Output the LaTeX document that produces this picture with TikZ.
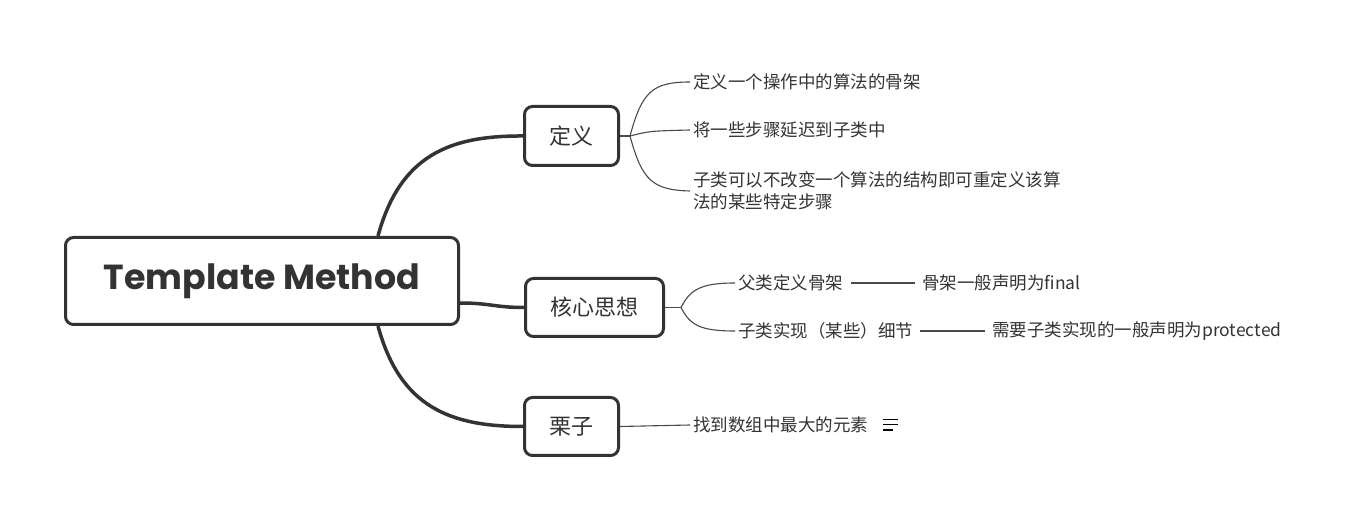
\documentclass[tikz,border=0pt]{standalone}
\usepackage{fontspec}
\newfontfamily\cjk{Noto Sans CJK SC}
\newfontfamily\titlefont{Poppins Bold}
\usetikzlibrary{calc}
\definecolor{ink}{HTML}{333333}
\definecolor{thin}{HTML}{4A4A4A}
\begin{document}
\begin{tikzpicture}[x=1pt,y=-1pt,
  box/.style={draw=ink,line width=3pt,rounded corners=8pt,fill=white,text=ink,inner sep=0pt,font=\cjk\fontsize{22}{26}\selectfont},
  leaf/.style={anchor=west,inner xsep=3pt,inner ysep=0pt,text=ink,font=\cjk\fontsize{17.5}{22}\selectfont,align=left},
  mainline/.style={draw=ink,line width=3.5pt},
  subline/.style={draw=thin,line width=1.1pt}]
\useasboundingbox (0,0) rectangle (1358,518);
% main nodes
\node[box,minimum width=393pt,minimum height=87pt,font=\titlefont\fontsize{34.8}{38}\selectfont] (root) at (262,281) {Template Method};
\node[box,minimum width=94pt,minimum height=59pt] (def) at (571.5,136) {定义};
\node[box,minimum width=138pt,minimum height=58pt] (core) at (594.5,307.5) {核心思想};
\node[box,minimum width=94pt,minimum height=58pt] (ex) at (571.5,426.5) {栗子};
% main branches
\draw[mainline] ([xshift=116pt]root.north) .. controls (400,155) and (450,135.5) .. (def.west);
\draw[mainline] ([yshift=-22pt]root.east) .. controls (490,303) and (495,307.5) .. (core.west);
\draw[mainline] ([xshift=116pt]root.south) .. controls (400,407) and (450,426.5) .. (ex.west);
% leaves of def
\node[leaf] (d1) at (690,82) {定义一个操作中的算法的骨架};
\node[leaf] (d2) at (690,130) {将一些步骤延迟到子类中};
\node[leaf] (d3) at (690,191) {子类可以不改变一个算法的结构即可重定义该算\\法的某些特定步骤};
\coordinate (dj) at (630,136);
\draw[subline] (def.east) -- (dj);
\draw[subline] (dj) .. controls (642,92) and (652,82) .. (d1.west);
\draw[subline] (dj) .. controls (650,131) .. (d2.west);
\draw[subline] (dj) .. controls (642,180) and (652,190) .. (d3.west);
% leaves of core
\node[leaf] (c1) at (735,283) {父类定义骨架};
\node[leaf] (c1b) at (919,283) {骨架一般声明为final};
\node[leaf] (c2) at (735,331) {子类实现（某些）细节};
\node[leaf] (c2b) at (989,331) {需要子类实现的一般声明为protected};
\coordinate (cj) at (681,307.5);
\draw[subline] (core.east) -- (cj);
\draw[subline] (cj) .. controls (690,290) and (700,283) .. (c1.west);
\draw[subline] (cj) .. controls (690,325) and (700,331) .. (c2.west);
\draw[subline] ([xshift=5pt]c1.east) -- ([xshift=-4pt]c1b.west);
\draw[subline] ([xshift=4pt]c2.east) -- ([xshift=-4pt]c2b.west);
% leaf of example
\node[leaf] (e1) at (690,425) {找到数组中最大的元素};
\draw[subline] (ex.east) -- (e1.west);
\coordinate (n1) at (883,419.5);
\coordinate (n2) at (883,424.5);
\coordinate (n3) at (883,430);
\draw[thin,line width=1.4pt] (n1) -- ++(15,0) (n2) -- ++(15,0) (n3) -- ++(10,0);
\end{tikzpicture}
\end{document}
